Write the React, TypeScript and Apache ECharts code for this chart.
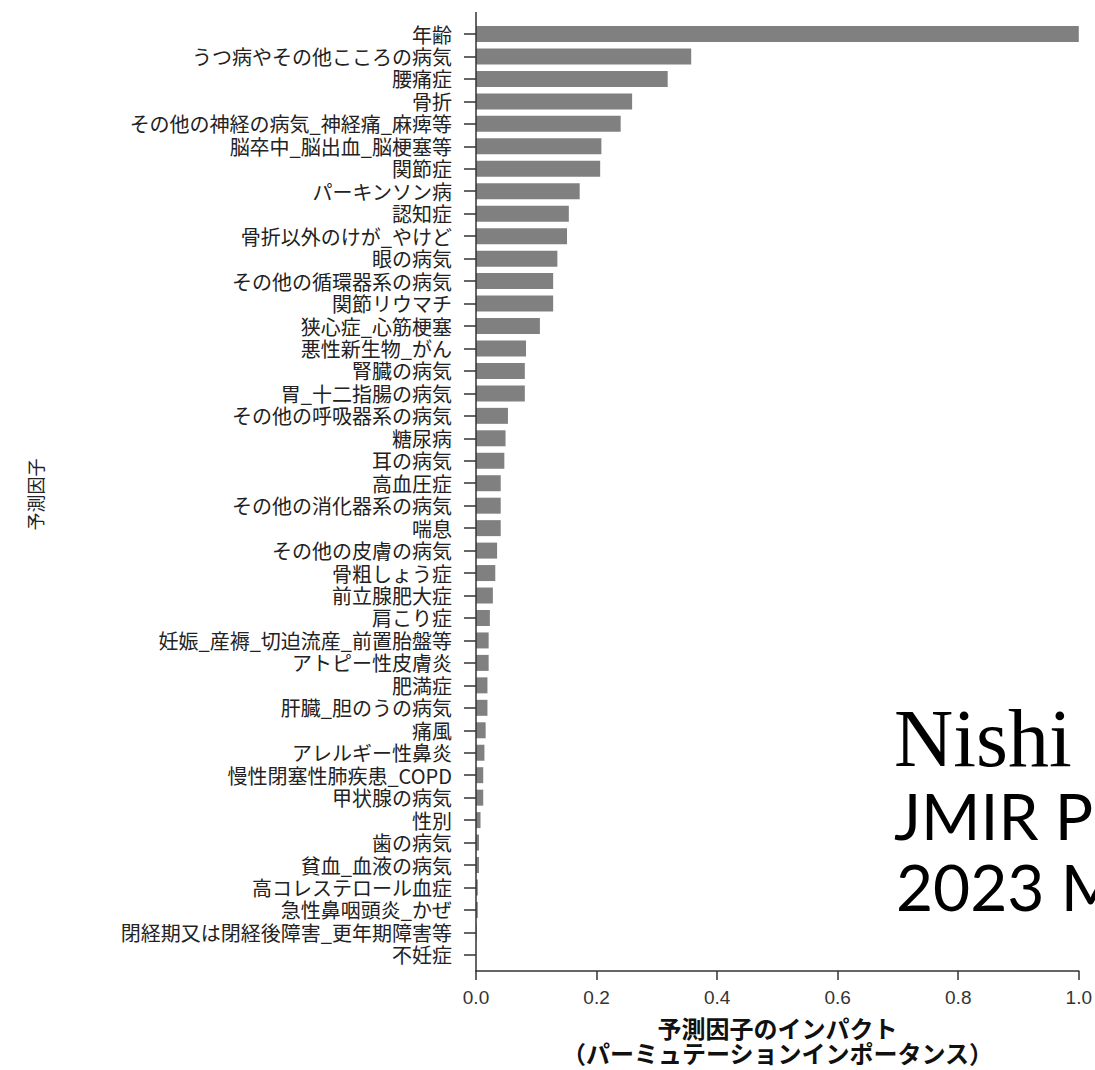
import React, { useEffect, useRef } from "react";
import * as echarts from "echarts";

const categories: string[] = [
  "年齢",
  "うつ病やその他こころの病気",
  "腰痛症",
  "骨折",
  "その他の神経の病気_神経痛_麻痺等",
  "脳卒中_脳出血_脳梗塞等",
  "関節症",
  "パーキンソン病",
  "認知症",
  "骨折以外のけが_やけど",
  "眼の病気",
  "その他の循環器系の病気",
  "関節リウマチ",
  "狭心症_心筋梗塞",
  "悪性新生物_がん",
  "腎臓の病気",
  "胃_十二指腸の病気",
  "その他の呼吸器系の病気",
  "糖尿病",
  "耳の病気",
  "高血圧症",
  "その他の消化器系の病気",
  "喘息",
  "その他の皮膚の病気",
  "骨粗しょう症",
  "前立腺肥大症",
  "肩こり症",
  "妊娠_産褥_切迫流産_前置胎盤等",
  "アトピー性皮膚炎",
  "肥満症",
  "肝臓_胆のうの病気",
  "痛風",
  "アレルギー性鼻炎",
  "慢性閉塞性肺疾患_COPD",
  "甲状腺の病気",
  "性別",
  "歯の病気",
  "貧血_血液の病気",
  "高コレステロール血症",
  "急性鼻咽頭炎_かぜ",
  "閉経期又は閉経後障害_更年期障害等",
  "不妊症",
];

const importance: number[] = [
  1.0, 0.357, 0.318, 0.259, 0.24, 0.208, 0.206, 0.172, 0.154, 0.151,
  0.135, 0.128, 0.128, 0.106, 0.083, 0.081, 0.081, 0.053, 0.049, 0.047,
  0.041, 0.041, 0.041, 0.035, 0.032, 0.028, 0.023, 0.021, 0.021, 0.019,
  0.019, 0.016, 0.014, 0.012, 0.012, 0.0075, 0.005, 0.005, 0.003, 0.003,
  0.001, 0.0,
];

const xTickValues: number[] = [0, 0.2, 0.4, 0.6, 0.8, 1.0];

const yAxisTitle = "予測因子";
const xAxisTitleLine1 = "予測因子のインパクト";
const xAxisTitleLine2 = "（パーミュテーションインポータンス）";

const overlayLines: string[] = ["Nishi", "JMIR P", "2023 M"];

export default function App() {
  const ref = useRef<HTMLDivElement>(null);

  useEffect(() => {
    document.body.style.margin = "0";
    if (!ref.current) return;
    const chart = echarts.init(ref.current, undefined, { renderer: "svg" });

    const gridLeft = 476;
    const gridTop = 22.8;
    const gridHeight = 943.3;
    const gridWidth = 608;
    const axisColor = "#333";

    chart.setOption({
      animation: false,
      backgroundColor: "#ffffff",
      grid: {
        left: gridLeft,
        top: gridTop,
        width: gridWidth,
        height: gridHeight,
        containLabel: false,
      },
      xAxis: {
        type: "value",
        min: 0,
        max: 1,
        interval: 0.2,
        offset: 5,
        splitLine: { show: false },
        axisLine: { show: true, lineStyle: { color: axisColor, width: 1.5 } },
        axisTick: { show: true, length: 9, lineStyle: { color: axisColor, width: 1.5 } },
        axisLabel: {
          margin: 17,
          fontSize: 19,
          color: "#333",
          fontFamily: "Liberation Sans Narrow, Liberation Sans",
          formatter: (v: number) =>
            xTickValues.some((t) => Math.abs(t - v) < 1e-9) ? v.toFixed(1) : "",
        },
        name: `{a|${xAxisTitleLine1}}\n{b|${xAxisTitleLine2}}`,
        nameLocation: "middle",
        nameGap: 44,
        nameTextStyle: {
          color: "#111",
          rich: {
            a: {
              fontSize: 24,
              fontWeight: "bold",
              fontFamily: "Noto Sans CJK JP",
              lineHeight: 25,
              color: "#111",
            },
            b: {
              fontSize: 24,
              fontWeight: "bold",
              fontFamily: "Noto Sans CJK JP",
              lineHeight: 25,
              color: "#111",
            },
          },
        },
      },
      yAxis: {
        type: "category",
        data: categories,
        inverse: true,
        axisLine: { show: false },
        axisTick: {
          show: true,
          alignWithLabel: true,
          length: 12,
          lineStyle: { color: axisColor, width: 1.5 },
        },
        axisLabel: {
          margin: 24,
          fontSize: 20,
          lineHeight: 21,
          color: "#222",
          fontFamily: "Noto Sans CJK JP",
          interval: 0,
        },
        name: yAxisTitle,
        nameLocation: "middle",
        nameRotate: 90,
        nameGap: 432,
        nameTextStyle: {
          fontSize: 18,
          color: "#222",
          fontFamily: "Noto Sans CJK JP",
        },
      },
      series: [
        {
          type: "bar",
          data: importance,
          barWidth: 16,
          itemStyle: { color: "#808080" },
          silent: true,
        },
      ],
      graphic: [
        {
          type: "line",
          shape: { x1: gridLeft, y1: 12, x2: gridLeft, y2: 971.5 },
          style: { stroke: axisColor, lineWidth: 1.5 },
          z: 10,
        },
        {
          type: "text",
          x: 894,
          y: 738,
          style: {
            text: overlayLines[0],
            fontSize: 82,
            fontFamily: "Liberation Serif",
            fill: "#000",
            align: "left",
            verticalAlign: "middle",
          },
          z: 20,
        },
        {
          type: "text",
          x: 894,
          y: 815,
          style: {
            text: overlayLines[1],
            fontSize: 64,
            fontFamily: "Lato",
            fill: "#000",
            align: "left",
            verticalAlign: "middle",
          },
          z: 20,
        },
        {
          type: "text",
          x: 896,
          y: 886,
          style: {
            text: overlayLines[2],
            fontSize: 64,
            fontFamily: "Lato",
            fill: "#000",
            align: "left",
            verticalAlign: "middle",
          },
          z: 20,
        },
      ],
    });

    return () => {
      chart.dispose();
    };
  }, []);

  return <div ref={ref} style={{ width: 1095, height: 1070 }} />;
}
